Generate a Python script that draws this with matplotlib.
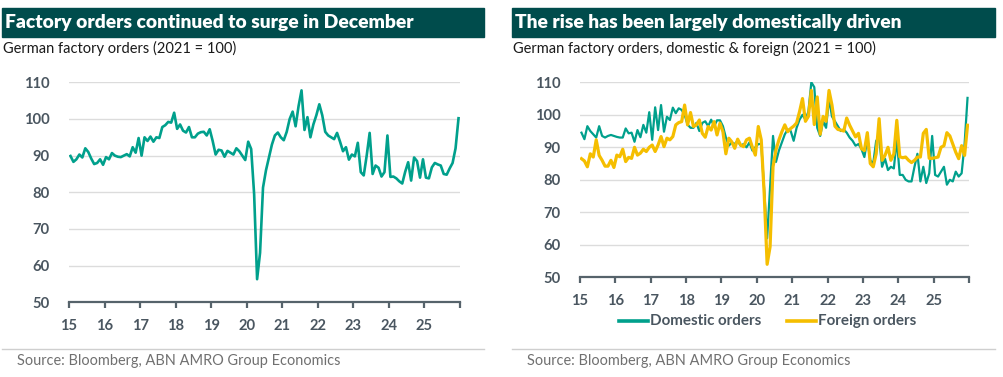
import numpy as np
import matplotlib
matplotlib.use("Agg")
import matplotlib.pyplot as plt
from matplotlib.patches import Rectangle
from matplotlib.lines import Line2D

# German factory orders, total (2021 = 100), monthly Jan 2015 - Dec 2025
total = [
    89.9, 88.3, 89.0, 90.3, 89.5, 92.0, 91.0, 89.2, 87.7, 88.0, 89.0, 87.5,   # 2015
    89.6, 89.0, 90.7, 90.0, 89.7, 89.6, 90.0, 90.4, 89.8, 92.3, 90.8, 94.8,   # 2016
    90.0, 95.0, 94.0, 95.2, 93.8, 95.0, 94.8, 97.8, 98.3, 99.2, 99.0, 101.7,  # 2017
    97.3, 98.5, 96.8, 96.3, 97.8, 95.0, 95.0, 96.0, 96.4, 96.5, 95.5, 97.2,   # 2018
    94.0, 90.3, 91.6, 91.4, 89.7, 91.3, 90.8, 90.3, 92.0, 91.2, 90.0, 88.8,   # 2019
    93.8, 91.8, 79.5, 56.3, 63.5, 81.3, 86.0, 89.5, 93.0, 95.5, 96.3, 95.0,   # 2020
    94.2, 96.5, 100.0, 102.0, 98.0, 103.5, 107.8, 97.0, 100.5, 95.0, 98.5, 101.0,  # 2021
    104.0, 101.0, 96.5, 95.5, 95.0, 94.5, 96.2, 93.8, 91.2, 92.3, 88.9, 90.3,  # 2022
    89.8, 93.5, 85.5, 84.6, 90.0, 96.2, 85.0, 87.3, 86.7, 84.3, 85.5, 95.5,   # 2023
    84.2, 84.3, 83.8, 83.0, 82.4, 85.6, 88.2, 83.2, 89.5, 88.5, 84.0, 89.0,   # 2024
    84.0, 83.8, 86.8, 88.0, 87.6, 87.3, 85.0, 84.8, 86.5, 88.0, 92.0, 100.2,  # 2025
]

domestic = [
    94.5, 92.5, 96.5, 95.0, 94.0, 93.0, 96.5, 93.5, 93.0, 93.5, 93.8, 93.5,
    93.2, 93.0, 93.0, 95.8, 94.3, 94.5, 91.7, 95.3, 93.1, 96.9, 94.5, 100.8,
    92.3, 102.3, 95.3, 103.0, 94.8, 99.4, 98.4, 102.2, 100.5, 102.0, 101.5, 100.0,
    97.0, 96.0, 96.0, 97.5, 95.0, 97.5, 98.0, 96.5, 98.5, 96.5, 98.3, 98.3,
    96.5, 93.0, 90.5, 91.5, 91.0, 92.0, 90.5, 91.0, 90.0, 91.5, 89.0, 90.0,
    91.0, 91.0, 77.0, 62.0, 78.0, 93.5, 85.5, 89.0, 91.5, 94.0, 95.5, 95.0,
    92.0, 96.0, 98.5, 100.0, 98.5, 101.0, 110.0, 108.5, 96.0, 93.5, 98.0, 96.0,
    105.0, 99.5, 98.0, 96.5, 95.0, 95.5, 94.5, 93.0, 92.0, 90.5, 91.0, 89.5,
    87.0, 92.5, 86.0, 85.0, 92.0, 93.0, 84.0, 86.5, 83.0, 84.0, 83.5, 92.5,
    81.5, 81.5, 80.0, 79.5, 79.5, 84.0, 88.0, 79.5, 84.0, 79.0, 82.0, 93.5,
    81.5, 81.0, 82.5, 84.0, 78.5, 80.0, 79.5, 82.5, 81.0, 82.0, 91.0, 105.2,
]

foreign = [
    86.5, 85.8, 84.0, 88.0, 87.0, 92.3, 87.5, 86.0, 84.2, 84.2, 86.0, 83.8,
    87.6, 87.1, 89.4, 85.6, 86.9, 86.6, 90.0, 87.6, 88.2, 89.4, 88.7, 90.0,
    90.7, 88.7, 90.7, 93.3, 90.2, 92.8, 92.3, 93.3, 96.9, 97.6, 97.9, 103.0,
    96.9, 100.7, 96.4, 96.9, 98.4, 94.3, 93.1, 96.4, 95.3, 97.9, 93.8, 97.4,
    94.8, 88.0, 92.8, 91.7, 89.7, 92.5, 90.7, 90.2, 92.3, 92.8, 90.0, 87.6,
    96.4, 92.3, 75.8, 54.0, 59.4, 84.0, 89.2, 92.3, 94.8, 96.9, 94.8, 95.8,
    96.5, 97.5, 101.0, 105.0, 98.0, 99.5, 107.5, 97.0, 105.5, 94.0, 99.5, 98.0,
    107.5, 103.0, 96.5, 95.5, 95.3, 95.0, 99.0, 96.8, 95.0, 93.2, 94.3, 89.6,
    89.0, 94.5, 85.0, 84.0, 88.0, 98.8, 86.0, 87.5, 90.0, 86.0, 88.0, 98.3,
    87.1, 86.8, 87.0, 86.0, 85.3, 86.0, 87.0, 87.0, 94.3, 95.5, 86.6, 86.6,
    86.8, 87.0, 90.0, 90.5, 94.5, 93.5, 91.0, 88.5, 86.5, 90.5, 87.5, 96.8,
]

years = list(range(2015, 2027))
year_labels = ["15", "16", "17", "18", "19", "20", "21", "22", "23", "24", "25", ""]
yticks = [50, 60, 70, 80, 90, 100, 110]

# decimal time, middle of each month
t = 2015 + (np.arange(len(total)) + 0.5) / 12

TEAL = "#00A08C"
YELLOW = "#F5BE00"
BANNER = "#004C4C"
AXIS = "#56636B"
TICKTXT = "#4A5660"
GRID = "#DCDCDC"

plt.rcParams["font.family"] = ["Lato", "DejaVu Sans"]

W, H = 1004, 377
fig = plt.figure(figsize=(W / 100, H / 100), dpi=100)


def px_ax(x0, x1, ytop, ybot):
    return fig.add_axes([x0 / W, 1 - ybot / H, (x1 - x0) / W, (ybot - ytop) / H])


def style(ax):
    ax.set_xlim(2015, 2026)
    ax.set_ylim(50, 110)
    ax.set_yticks(yticks)
    ax.set_xticks(years)
    ax.set_xticklabels(year_labels)
    for s in ["top", "right", "left"]:
        ax.spines[s].set_visible(False)
    ax.spines["bottom"].set_color(AXIS)
    ax.spines["bottom"].set_linewidth(1.6)
    ax.grid(axis="y", color=GRID, lw=1.0)
    ax.set_axisbelow(True)
    ax.tick_params(axis="y", length=0, pad=14, labelsize=10.6, labelcolor=TICKTXT)
    ax.tick_params(axis="x", length=4, width=1.6, color=AXIS, pad=8,
                   labelsize=10.6, labelcolor=TICKTXT)
    for lab in ax.get_xticklabels() + ax.get_yticklabels():
        lab.set_fontweight("bold")


# left panel
ax1 = px_ax(69, 460, 82.3, 302.3)
ax1.plot(t, total, color=TEAL, lw=1.9, solid_joinstyle="round")
style(ax1)

# right panel
ax2 = px_ax(580, 969, 82.3, 277.3)
ax2.plot(t, domestic, color=TEAL, lw=1.6, solid_joinstyle="round", zorder=3)
ax2.plot(t, foreign, color=YELLOW, lw=2.3, solid_joinstyle="round", zorder=4)
style(ax2)

# banners, subtitles, sources
for x0, x1, title, sub in [
    (2, 484, "Factory orders continued to surge in December",
     "German factory orders (2021 = 100)"),
    (512, 995, "The rise has been largely domestically driven",
     "German factory orders, domestic & foreign (2021 = 100)"),
]:
    fig.patches.append(Rectangle((x0 / W, 1 - 36.7 / H), (x1 - x0) / W, 28.7 / H,
                                 transform=fig.transFigure, color=BANNER, zorder=0))
    fig.text((x0 + 3) / W, 1 - 22.5 / H, title, color="white", fontsize=13.9,
             fontweight="heavy", va="center", ha="left")
    fig.text((x0 + 1) / W, 1 - 48.5 / H, sub, color="#1a1a1a", fontsize=10.5,
             va="center", ha="left")
    fig.lines.append(Line2D([x0 / W, x1 / W], [1 - 349.3 / H] * 2,
                            transform=fig.transFigure, color="#CFCFCF", lw=1.0))
    fig.text((x0 + 15) / W, 1 - 361 / H, "Source: Bloomberg, ABN AMRO Group Economics",
             color="#707070", fontsize=10.45, va="center", ha="left")

# legend of right panel
leg_y = 1 - 321.3 / H
for lx0, lx1, col, lab in [(619, 648, TEAL, "Domestic orders"),
                           (787, 816, YELLOW, "Foreign orders")]:
    fig.lines.append(Line2D([lx0 / W, lx1 / W], [leg_y, leg_y], transform=fig.transFigure,
                            color=col, lw=2.6))
    fig.text((lx1 + 2) / W, leg_y, lab, color=TICKTXT, fontsize=10.9, fontweight="bold",
             va="center", ha="left")

fig.savefig("out.png", dpi=100)
